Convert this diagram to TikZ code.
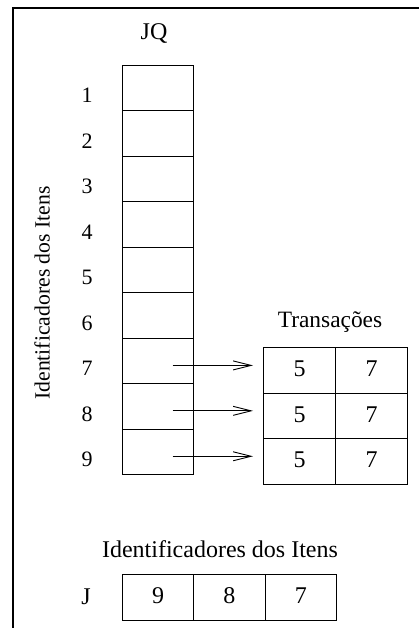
\documentclass[tikz,border=0pt]{standalone}
\usepackage{fontspec}
\setmainfont{Liberation Serif}
\usetikzlibrary{arrows.meta,calc}

\begin{document}
\begin{tikzpicture}[x=1pt,y=-1pt,
  cell/.style={draw,line width=1pt,inner sep=0pt,anchor=north west,
    minimum width=#1,minimum height=45.5pt},
  cell/.default=71pt,
  lab/.style={inner sep=0pt,anchor=base,font=\fontsize{22}{26}\selectfont},
  big/.style={inner sep=0pt,anchor=base,font=\fontsize{24}{28}\selectfont},
  ptr/.style={line width=1pt,-{Straight Barb[length=18pt,width=9pt,line width=0.9pt]}}]
\useasboundingbox (0,0) rectangle (419,628);

% frame on the top and left
\draw[line width=2pt] (13,628) -- (13,8) -- (419,8);

% JQ column
\node[big] (jq) at (154,40) {JQ};
\foreach \i in {1,...,9}{
  \node[cell] (q\i) at (122,{65+45.44*(\i-1)}) {};
  \node[lab] (n\i) at (87,{65+45.44*(\i-1)+38}) {\i};
}
\node[inner sep=0pt,rotate=90,font=\fontsize{21.7}{26}\selectfont] (ids) at (42,293) {Identificadores dos Itens};

% Transactions table
\node[big,font=\fontsize{23.4}{28}\selectfont] (tr) at (330,327) {Transações};
\foreach \r/\y in {1/347,2/392.7,3/438.3}{
  \node[cell=72pt,minimum height=45.67pt] (t\r a) at (263,\y) {};
  \node[cell=72pt,minimum height=45.67pt] (t\r b) at (335,\y) {};
  \node[big] (v\r a) at ($(t\r a.center)+(0,6)$) {5};
  \node[big] (v\r b) at ($(t\r b.center)+(0,6)$) {7};
}

% pointers from JQ rows 7-9 into the table
\foreach \i/\r in {7/1,8/2,9/3}{
  \coordinate (s\i) at ($(q\i.center)+(14.5,4.5)$);
  \coordinate (e\i) at ($(s\i -| t\r a.west)+(-10,0)$);
  \draw[ptr] (s\i) -- (e\i);
}

% J vector
\node[big] (jl) at (220,557) {Identificadores dos Itens};
\node[big] (j) at (86,604) {J};
\node[cell=71.3pt,minimum height=46pt] (j1) at (122,574) {};
\node[cell=71.3pt,minimum height=46pt] (j2) at (193.3,574) {};
\node[cell=71.3pt,minimum height=46pt] (j3) at (264.6,574) {};
\node[big] (jv1) at ($(j1.center)+(0,6)$) {9};
\node[big] (jv2) at ($(j2.center)+(0,6)$) {8};
\node[big] (jv3) at ($(j3.center)+(0,6)$) {7};
\end{tikzpicture}
\end{document}
